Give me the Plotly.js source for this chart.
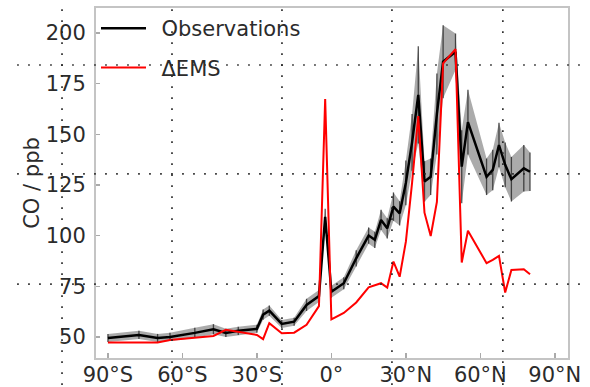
<!DOCTYPE html>
<html>
<head>
<meta charset="utf-8">
<script src="https://cdn.plot.ly/plotly-3.0.1.min.js"></script>
<style>html,body{margin:0;padding:0;background:#fff;}#chart{width:590px;height:387px;}</style>
</head>
<body>
<div id="chart"></div>
<script>
// Latitude of each sample (degrees, negative = south)
const lat = [-90,-77.5,-70,-65,-55,-47.5,-42.5,-37.5,-30,-27.5,-25,-20,-15,-10,-5,-2.5,0,5,10,15,17.5,20,22.5,25,27.5,30,32.5,35,37.5,40,42.5,45,50,52.5,55,62.5,65,67.5,70,72.5,77.5,80];
// Observed CO (ppb)
const obs = [49.5,51,49.5,50,52,53.8,52,53,54,61,63,56.4,57.5,65.8,70.2,109.3,72.3,76.5,88.8,100,97.9,107.7,103.6,114.3,111,126,146,169.4,126.7,129,160,185.8,190.7,134,156,129,132.4,144.7,134.9,127.8,133.2,131.5];
// Observation uncertainty (ppb)
const obsErr = [2,2,2,2,2.5,2.5,2,2,2,2.5,2.5,2,2,3,3,4,3,3,4,4,4,5,5,7,6,11,14,24,10,9,20,18,9,18,16,9,10,11,11,11,11.5,9.5];
// Model ΔEMS CO (ppb)
const ems = [47.2,47.2,47.2,48.5,49.5,50.5,53.5,52.6,51,48.9,56.8,51.8,52.1,56,65.2,167.4,58.6,61.8,67,74.5,75.5,76.5,74.3,87.2,79.7,97,126,159,111.3,99.8,116.6,185,192,86.7,102.4,86.4,88,90,71.9,83,83.4,80.9];
// Axis ticks
const xTickVals = [-90,-60,-30,0,30,60,90];
const xTickText = ['90°S','60°S','30°S','0°','30°N','60°N','90°N'];
const yTickVals = [50,75,100,125,150,175,200];

const upper = obs.map((v,i)=>v+obsErr[i]);
const lower = obs.map((v,i)=>v-obsErr[i]);

const band = {
  x: lat.concat(lat.slice().reverse()),
  y: upper.concat(lower.slice().reverse()),
  type: 'scatter', mode: 'lines', fill: 'toself',
  fillcolor: 'rgba(120,120,120,0.62)', line: {width: 0, color: 'rgba(0,0,0,0)'},
  hoverinfo: 'skip', showlegend: false
};
const obsTrace = {
  x: lat, y: obs, type: 'scatter', mode: 'lines', name: '\u2002Observations',
  line: {color: '#000', width: 2.5},
  error_y: {type: 'data', array: obsErr, visible: true, color: 'rgba(30,30,30,0.75)', thickness: 1.3, width: 0},
  legendgroup: 'a'
};
const emsTrace = {
  x: lat, y: ems, type: 'scatter', mode: 'lines', name: '\u2002ΔEMS',
  line: {color: '#ff0000', width: 2}, legendgroup: 'b'
};

// decorative dotted grid (paper coordinates)
const vGrid = [-0.072, 0.161, 0.394, 0.627, 0.862];
const hGrid = [0.837, 0.526, 0.211];
const shapes = [];
vGrid.forEach(x => shapes.push({type:'line', xref:'paper', yref:'paper', x0:x, x1:x, y0:-0.077, y1:1.0, layer:'above',
  line:{color:'#222', width:1.6, dash:'1.6px,9.4px'}}));
hGrid.forEach(y => shapes.push({type:'line', xref:'paper', yref:'paper', x0:-0.167, x1:1.032, y0:y, y1:y, layer:'above',
  line:{color:'#222', width:1.6, dash:'1.6px,9.4px'}}));

const font = {family: 'DejaVu Sans', size: 21, color: '#2b2b2b'};
const layout = {
  width: 590, height: 387,
  margin: {l: 96, r: 22, t: 8, b: 29},
  paper_bgcolor: '#fff', plot_bgcolor: '#fff',
  font: font,
  showlegend: true,
  legend: {x: 0.0, y: 1.0, xanchor: 'left', yanchor: 'top', bgcolor: 'rgba(0,0,0,0)',
           font: {family: 'DejaVu Sans', size: 21, color: '#2b2b2b'}, tracegroupgap: 9, itemwidth: 45},
  xaxis: {range: [-94.8, 95.3], tickvals: xTickVals, ticktext: xTickText, ticks: 'inside', ticklen: 5,
          tickwidth: 1.5, tickcolor: '#aaa', showgrid: false, zeroline: false, showline: true, mirror: true,
          linecolor: '#c4c4c4', linewidth: 2, tickfont: font, ticklabelstandoff: -3},
  yaxis: {range: [39.6, 212.3], tickvals: yTickVals, ticks: 'inside', ticklen: 4, tickwidth: 1.5,
          tickcolor: '#aaa', showgrid: false, zeroline: false, showline: true, mirror: true,
          linecolor: '#c4c4c4', linewidth: 2, tickfont: font, ticklabelstandoff: 4,
          title: {text: 'CO / ppb', font: {family: 'DejaVu Sans', size: 21, color: '#2b2b2b'}, standoff: 0}},
  shapes: shapes
};
Plotly.newPlot('chart', [band, obsTrace, emsTrace], layout, {displayModeBar: false, staticPlot: true});
</script>
</body>
</html>
